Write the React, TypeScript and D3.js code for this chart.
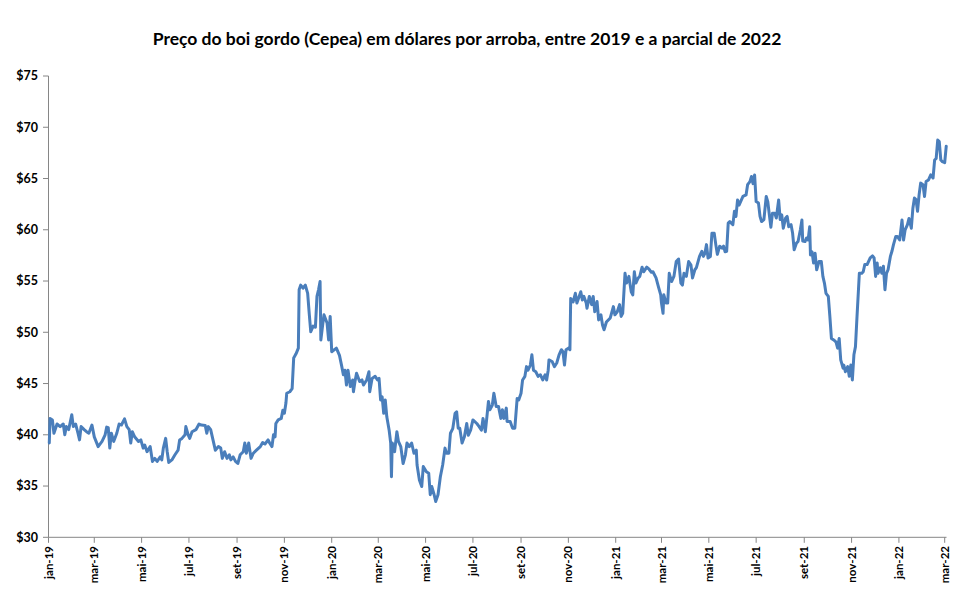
import React from "react";
import * as d3 from "d3";

const TITLE = "Preço do boi gordo (Cepea) em dólares por arroba, entre 2019 e a parcial de 2022";
const BASE_DATE = "2019-01-01";
const Y_TICKS = [30, 35, 40, 45, 50, 55, 60, 65, 70, 75];
const X_TICK_LABELS = [
  "jan-19","mar-19","mai-19","jul-19","set-19","nov-19",
  "jan-20","mar-20","mai-20","jul-20","set-20","nov-20",
  "jan-21","mar-21","mai-21","jul-21","set-21","nov-21",
  "jan-22","mar-22",
];

// days since BASE_DATE
const dayOffsets = [
  1,2,5,7,11,15,19,21,23,26,30,32,35,38,40,42,46,49,52,56,59,64,69,73,75,77,79,81,84,88,91,94,98,101,104,106,108,111,116,119,122,124,127,131,134,137,140,144,146,148,151,153,155,159,163,167,169,172,176,177,180,182,185,190,194,197,202,204,206,209,212,215,219,222,224,227,230,233,235,238,241,244,247,251,253,255,258,261,264,268,273,276,279,283,285,288,290,292,293,296,300,302,304,306,307,311,314,316,319,322,323,325,328,331,334,336,338,341,344,346,348,350,351,353,355,359,361,363,
  365,371,375,378,380,382,384,386,389,392,393,395,397,401,404,406,410,413,414,417,421,424,426,428,430,432,434,436,439,441,442,443,446,449,451,454,457,460,462,465,468,471,474,475,478,481,483,487,490,492,494,497,499,502,505,508,511,513,516,518,521,524,526,528,530,533,536,539,541,544,547,552,555,558,560,563,565,567,569,572,574,577,580,583,585,587,590,591,595,598,601,604,606,609,611,614,616,618,621,623,625,628,631,634,637,640,642,644,645,649,652,655,658,661,663,665,667,670,672,673,676,679,681,683,686,688,690,693,694,697,700,702,704,707,709,712,714,716,719,724,728,730,733,736,738,740,743,745,748,751,753,755,757,760,
  762,765,767,771,774,777,779,783,786,789,790,792,793,796,798,800,803,806,809,812,815,817,819,822,825,828,830,833,835,839,842,844,846,848,850,853,855,858,860,862,865,868,870,872,874,876,878,882,884,886,888,890,892,895,899,901,904,906,908,910,912,915,917,919,922,925,927,929,931,933,936,938,941,943,945,947,950,952,954,957,959,961,964,966,969,971,972,975,977,979,981,982,984,986,988,990,993,996,998,1000,1002,1005,1007,1009,1012,1015,1017,1019,1021,1024,1025,1027,1030,1032,1034,1036,1038,1040,1042,1045,1048,1050,1052,1055,1059,1062,1064,1066,1068,1069,1072,1074,1076,1078,1080,1082,1085,1087,1089,1092,1094,1097,1100,1102,1104,1107,1109,1112,1114,1116,1118,1120,1122,1124,1127,1129,1131,1134,1137,1140,1142,1144,1146,1148,1150,1152,1155,1157,
];

const prices = [
  39.2,41.6,41.45,40.15,41.05,40.8,41.05,40.0,40.8,40.5,41.95,40.8,41.05,40.15,39.5,40.8,40.5,40.3,40.15,40.95,39.8,38.85,39.35,40.0,40.75,40.7,38.7,40.15,39.35,40.15,41.05,40.95,41.55,40.8,40.5,39.2,40.3,39.8,39.35,39.5,38.7,39.0,38.35,38.85,37.4,37.7,37.4,37.85,37.55,38.7,39.65,38.35,37.3,37.55,38.05,38.5,39.5,39.65,40.0,40.8,40.0,39.65,40.3,40.5,41.05,40.95,40.9,40.15,40.8,40.5,39.5,38.5,38.85,38.7,37.7,38.35,37.7,38.05,37.55,37.85,37.4,37.2,38.05,38.35,39.2,38.2,39.2,37.7,38.2,38.5,38.85,39.25,39.1,39.5,39.2,38.85,40.0,39.8,41.1,41.45,41.6,42.4,42.1,43.1,44.05,44.2,44.5,47.5,47.9,48.45,54.15,54.6,54.3,54.6,53.8,51.85,50.05,50.6,50.5,53.5,54.15,54.95,49.25,50.5,51.7,50.9,49.25,51.55,
  48.1,48.45,47.75,46.65,45.85,46.3,44.85,46.3,44.7,45.35,44.2,45.2,46.0,45.2,45.35,44.85,45.35,46.15,44.2,45.5,45.7,45.35,45.5,43.4,43.7,42.1,43.4,41.75,40.45,39.2,35.9,39.2,38.35,40.3,39.35,38.85,37.2,38.05,39.2,38.85,39.2,38.2,38.5,37.05,35.6,34.95,36.9,36.4,36.25,34.15,34.95,34.15,33.5,34.15,35.9,37.05,38.7,38.2,38.2,40.15,40.6,42.1,42.25,40.65,40.65,39.2,39.8,41.1,39.95,40.45,41.45,41.1,40.8,40.45,41.6,40.3,41.75,43.25,42.45,42.9,44.05,42.75,42.75,41.6,42.45,41.6,42.6,41.3,41.3,40.65,40.65,43.55,43.4,44.05,45.35,45.7,46.65,46.3,46.8,47.8,46.3,46.15,45.7,45.85,45.35,45.85,45.35,46.3,47.3,47.15,46.65,47.0,47.8,48.3,48.1,46.8,48.3,48.45,48.3,53.3,52.95,53.8,52.85,53.3,53.95,53.15,53.5,52.85,52.35,53.5,52.7,53.5,52.0,53.0,51.2,51.7,50.7,50.25,51.0,51.4,52.5,51.7,52.0,52.7,51.55,51.85,55.75,54.8,55.45,53.95,53.65,55.9,54.8,55.3,
  55.45,56.35,55.9,56.35,56.15,55.85,55.9,55.3,54.45,53.65,52.85,51.85,53.65,52.85,52.85,55.75,54.95,55.45,56.9,57.15,54.8,54.6,55.75,55.45,56.9,56.55,55.3,56.1,56.3,57.4,57.9,57.4,57.7,58.55,57.25,57.4,59.65,59.65,58.55,57.6,58.4,58.2,58.4,57.85,57.9,60.65,60.8,60.5,61.8,61.3,62.9,62.4,62.75,63.25,63.4,64.4,64.7,65.2,64.5,65.35,62.75,62.6,61.3,60.8,61.0,63.25,62.75,61.45,60.25,61.6,61.6,61.15,62.9,61.0,61.45,60.15,61.15,61.3,60.3,60.5,59.65,58.05,58.7,58.85,60.0,60.95,58.9,58.85,59.2,59.0,60.3,57.55,57.85,56.75,57.7,56.1,56.9,56.9,55.45,54.8,53.8,53.5,51.55,49.4,49.25,49.05,48.45,49.4,47.3,46.5,46.8,46.15,46.65,45.7,46.8,45.35,47.8,48.6,51.55,55.75,55.75,55.9,56.6,56.6,57.25,57.45,57.25,55.45,56.75,55.75,56.3,55.75,56.45,54.15,55.75,56.1,57.4,57.9,58.55,59.35,59.35,59.0,60.95,59.0,60.0,60.5,61.1,60.15,62.1,63.1,62.95,61.8,63.4,64.55,64.4,63.25,64.7,64.85,65.35,65.05,66.8,66.95,68.75,68.6,66.8,66.65,66.55,68.15,
];

const W = 961;
const H = 594;

export default function App() {
  const base = new Date(BASE_DATE + "T00:00:00Z");
  const toDate = (d: number) => new Date(base.getTime() + d * 86400000);
  const data = dayOffsets.map((d, i) => ({ date: toDate(d), value: prices[i] }));

  const x = d3
    .scaleUtc()
    .domain([new Date("2019-01-01T00:00:00Z"), new Date("2022-03-01T00:00:00Z")])
    .range([48.5, 944.7]);
  const y = d3.scaleLinear().domain([30, 75]).range([537.3, 76]);

  const xTicks = d3.utcMonth.every(2)!.range(
    new Date("2019-01-01T00:00:00Z"),
    new Date("2022-03-02T00:00:00Z")
  );

  const line = d3
    .line<{ date: Date; value: number }>()
    .x((d) => x(d.date))
    .y((d) => y(d.value));

  const axisColor = "#868686";
  const font = "Lato, 'Open Sans', sans-serif";
  const xEnd = 946.5;

  return (
    <svg
      width={W}
      height={H}
      style={{ position: "absolute", left: 0, top: 0, background: "#fff" }}
    >
      <text
        x={467}
        y={44.5}
        textAnchor="middle"
        fontFamily={font}
        fontWeight="bold"
        fontSize={17.5}
        fill="#000"
      >
        {TITLE}
      </text>

      {/* Y axis */}
      <line x1={48.5} x2={48.5} y1={y(75)} y2={y(30)} stroke={axisColor} strokeWidth={1} />
      {Y_TICKS.map((t) => (
        <g key={t}>
          <line x1={43} x2={48.5} y1={y(t)} y2={y(t)} stroke={axisColor} strokeWidth={1} />
          <text
            x={38}
            y={y(t)}
            dy="0.35em"
            textAnchor="end"
            fontFamily={font}
            fontWeight="bold"
            fontSize={12.5}
            fill="#000"
          >
            {"$" + t}
          </text>
        </g>
      ))}

      {/* X axis */}
      <line x1={48.5} x2={xEnd} y1={y(30)} y2={y(30)} stroke={axisColor} strokeWidth={1} />
      {xTicks.map((t, i) => (
        <g key={i}>
          <line x1={x(t)} x2={x(t)} y1={y(30)} y2={y(30) + 5.5} stroke={axisColor} strokeWidth={1} />
          <text
            transform={`translate(${x(t)},${546}) rotate(-90)`}
            dy="0.35em"
            textAnchor="end"
            fontFamily={font}
            fontWeight="bold"
            fontSize={11.5}
            fill="#000"
          >
            {X_TICK_LABELS[i]}
          </text>
        </g>
      ))}

      <path
        d={line(data) || ""}
        fill="none"
        stroke="#4a7ebb"
        strokeWidth={3}
        strokeLinejoin="round"
        strokeLinecap="round"
      />
    </svg>
  );
}
